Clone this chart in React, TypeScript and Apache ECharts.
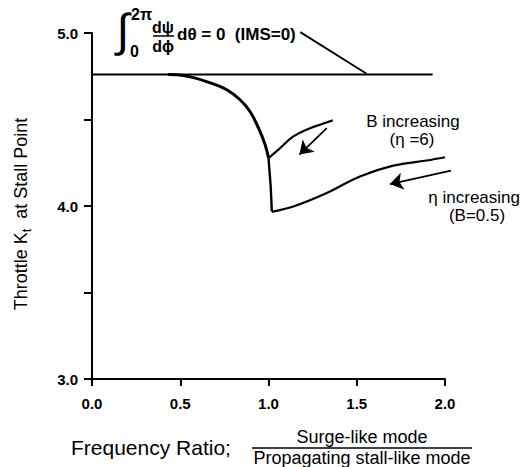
import React, { useEffect, useRef } from "react";
import * as echarts from "echarts";

// Data
const xTicks = [0, 0.5, 1.0, 1.5, 2.0];
const imsZeroLine = [
  [0, 4.76],
  [1.93, 4.76],
];
const upperCurve = [
  [0.43, 4.76],
  [0.48, 4.759],
  [0.575, 4.742],
  [0.67, 4.712],
  [0.764, 4.672],
  [0.839, 4.614],
  [0.896, 4.545],
  [0.943, 4.451],
  [0.981, 4.354],
  [1.0, 4.277],
];
const dropCurve = [
  [1.0, 4.277],
  [1.012, 4.12],
  [1.019, 3.968],
];
const etaCurve = [
  [1.019, 3.968],
  [1.03, 3.969],
  [1.141, 3.997],
  [1.33, 4.075],
  [1.518, 4.171],
  [1.707, 4.233],
  [1.896, 4.263],
  [2.0, 4.282],
];
const bCurve = [
  [1.0, 4.277],
  [1.066, 4.335],
  [1.141, 4.402],
  [1.235, 4.45],
  [1.292, 4.47],
  [1.364, 4.495],
];
const arrowB = [
  [1.33, 4.45],
  [1.175, 4.297],
];
const arrowEta = [
  [2.034, 4.204],
  [1.688, 4.127],
];
const leader = [
  [1.18, 5.005],
  [1.556, 4.765],
];

const FONT = "'Liberation Sans', Arial, Helvetica, sans-serif";

export default function App() {
  const ref = useRef<HTMLDivElement>(null);
  useEffect(() => {
    if (!ref.current) return;
    document.body.style.margin = "0";
    const chart = echarts.init(ref.current, null, { renderer: "svg" });
    const lineSeries = (data: number[][], width: number) => ({
      type: "line",
      data,
      showSymbol: false,
      symbol: "none",
      smooth: 0.4,
      lineStyle: { color: "#000", width },
      silent: true,
    });
    const arrowSeries = (data: number[][], withArrow: boolean) => ({
      type: "lines",
      coordinateSystem: "cartesian2d",
      clip: false,
      symbol: withArrow ? ["none", "arrow"] : ["none", "none"],
      symbolSize: 13,
      lineStyle: { color: "#000", width: 1.8, opacity: 1 },
      data: [{ coords: data }],
      silent: true,
    });
    const tstyle = (
      text: string,
      size: number,
      weight: string,
      align: string,
      valign: string
    ) => ({
      text,
      fill: "#000",
      font: `${weight} ${size}px ${FONT}`,
      fontFamily: FONT,
      fontSize: size,
      fontWeight: weight,
      textAlign: align,
      textVerticalAlign: valign,
      align,
      verticalAlign: valign,
    });
    chart.setOption({
      animation: false,
      backgroundColor: "#fff",
      grid: { left: 92, right: 75, top: 33, bottom: 88, containLabel: false },
      xAxis: {
        type: "value",
        min: 0,
        max: 2,
        interval: 0.5,
        axisLine: { show: true, lineStyle: { color: "#000", width: 2 } },
        axisTick: { show: true, length: 7, lineStyle: { color: "#000", width: 2 } },
        axisLabel: {
          color: "#000",
          fontSize: 15,
          fontWeight: "bold",
          fontFamily: FONT,
          margin: 17,
          formatter: (v: number) => (xTicks.includes(v) ? v.toFixed(1) : ""),
        },
        splitLine: { show: false },
      },
      yAxis: {
        type: "value",
        min: 3,
        max: 5,
        interval: 0.5,
        axisLine: { show: true, lineStyle: { color: "#000", width: 2 } },
        axisTick: { show: true, length: 8, lineStyle: { color: "#000", width: 2 } },
        axisLabel: {
          color: "#000",
          fontSize: 15,
          fontWeight: "bold",
          fontFamily: FONT,
          margin: 14,
          formatter: (v: number) => (Math.abs(v - Math.round(v)) < 1e-9 ? v.toFixed(1) : ""),
        },
        splitLine: { show: false },
      },
      series: [
        { ...lineSeries(imsZeroLine, 2), smooth: false },
        lineSeries(upperCurve, 3),
        { ...lineSeries(dropCurve, 2.4), smooth: false },
        lineSeries(etaCurve, 2.2),
        lineSeries(bCurve, 2.2),
        arrowSeries(arrowB, true),
        arrowSeries(arrowEta, true),
        arrowSeries(leader, false),
      ],
      graphic: [
        // formula
        { type: "text", x: 123, y: 30, style: tstyle("\u222B", 46, "normal", "center", "middle") },
        { type: "text", x: 131, y: 14, style: tstyle("2\u03C0", 16, "bold", "left", "middle") },
        { type: "text", x: 130, y: 51, style: tstyle("0", 16, "bold", "left", "middle") },
        { type: "text", x: 163, y: 27, style: tstyle("d\u03C8", 16, "bold", "center", "middle") },
        {
          type: "line",
          shape: { x1: 153, y1: 36, x2: 174, y2: 36 },
          style: { stroke: "#000", lineWidth: 1.5 },
        },
        { type: "text", x: 163, y: 46, style: tstyle("d\u03D5", 16, "bold", "center", "middle") },
        { type: "text", x: 177, y: 34, style: tstyle("d\u03B8 = 0  (IMS=0)", 17, "bold", "left", "middle") },
        // annotations
        { type: "text", x: 413, y: 121, style: tstyle("B increasing", 17, "normal", "center", "middle") },
        { type: "text", x: 412, y: 139, style: tstyle("(\u03B7 =6)", 17, "normal", "center", "middle") },
        { type: "text", x: 520, y: 197, style: tstyle("\u03B7 increasing", 17, "normal", "right", "middle") },
        { type: "text", x: 477, y: 215, style: tstyle("(B=0.5)", 17, "normal", "center", "middle") },
        // y-axis title
        {
          type: "text",
          x: 21,
          y: 214,
          rotation: Math.PI / 2,
          style: {
            text: "{n|Throttle K}{s|t}{n|  at Stall Point}",
            fill: "#000",
            textAlign: "center",
            textVerticalAlign: "middle",
            align: "center",
            verticalAlign: "middle",
            rich: {
              n: { fontSize: 18, fontFamily: FONT, fill: "#000", lineHeight: 24, verticalAlign: "middle" },
              s: { fontSize: 13, fontFamily: FONT, fill: "#000", lineHeight: 24, verticalAlign: "bottom", padding: [8, 0, 0, 0] },
            },
          },
        },
        // x-axis title
        { type: "text", x: 71, y: 447, style: tstyle("Frequency Ratio;", 21, "normal", "left", "middle") },
        { type: "text", x: 362, y: 437, style: tstyle("Surge-like mode", 18, "normal", "center", "middle") },
        {
          type: "line",
          shape: { x1: 252, y1: 448, x2: 472, y2: 448 },
          style: { stroke: "#000", lineWidth: 1.5 },
        },
        { type: "text", x: 362, y: 458, style: tstyle("Propagating stall-like mode", 18, "normal", "center", "middle") },
      ],
    });
    return () => chart.dispose();
  }, []);
  return <div ref={ref} style={{ width: 520, height: 467 }} />;
}
